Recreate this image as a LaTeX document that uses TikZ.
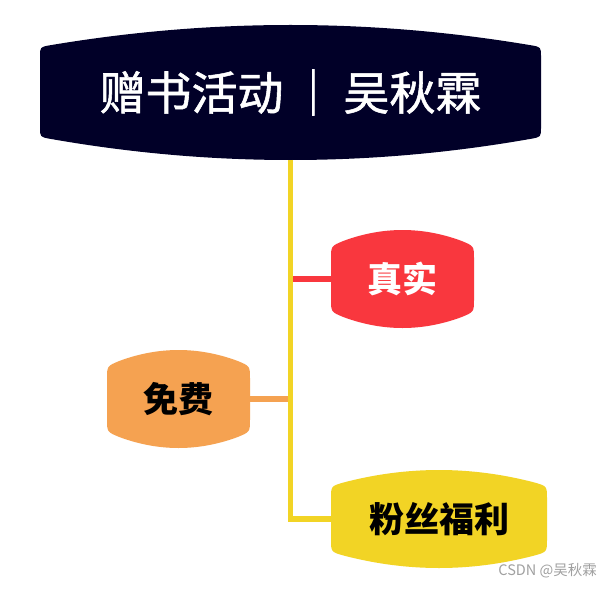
\documentclass[tikz,border=0pt]{standalone}
\usepackage{fontspec}
\newfontfamily\cjk{Noto Sans CJK SC}
\newfontfamily\cjkt[FakeBold=1.2]{Noto Sans CJK SC}
\usetikzlibrary{calc}
\definecolor{navy}{RGB}{1,0,40}
\definecolor{tred}{RGB}{249,55,62}
\definecolor{torange}{RGB}{245,162,81}
\definecolor{tyellow}{RGB}{242,212,37}
\definecolor{wmgray}{RGB}{160,160,160}
% #1 x0, #2 x1, #3 y apex top, #4 y side top, #5 y side bottom, #6 y apex bottom, #7 corner r, #8 colour
\newcommand\blobshape[8]{%
  \pgfmathsetmacro\bcx{(#1+#2)/2}%
  \pgfmathsetmacro\bhw{(#2-#1)/2}%
  \pgfmathsetmacro\bxa{#1+#7}%
  \pgfmathsetmacro\bxb{#2-#7}%
  \pgfmathsetmacro\bda{(\bhw-#7)/\bhw}%
  \pgfmathsetmacro\bya{#3+(#4-#3)*\bda*\bda}%
  \pgfmathsetmacro\byq{2*#3-\bya}%
  \pgfmathsetmacro\byc{\bya+2/3*(\byq-\bya)}%
  \pgfmathsetmacro\bybA{#6+(#5-#6)*\bda*\bda}%
  \pgfmathsetmacro\bybq{2*#6-\bybA}%
  \pgfmathsetmacro\bybc{\bybA+2/3*(\bybq-\bybA)}%
  \pgfmathsetmacro\bxc{\bxa+2/3*(\bcx-\bxa)}%
  \pgfmathsetmacro\bxd{\bxb-2/3*(\bxb-\bcx)}%
  \fill[#8] (#1,#4+#7) .. controls (#1,#4) .. (\bxa,\bya)
    .. controls (\bxc,\byc) and (\bxd,\byc) .. (\bxb,\bya)
    .. controls (#2,#4) .. (#2,#4+#7) -- (#2,#5-#7)
    .. controls (#2,#5) .. (\bxb,\bybA)
    .. controls (\bxd,\bybc) and (\bxc,\bybc) .. (\bxa,\bybA)
    .. controls (#1,#5) .. (#1,#5-#7) -- cycle;}
\begin{document}
\begin{tikzpicture}[x=1pt,y=-1pt,
  box/.style={rectangle, inner sep=0pt, outer sep=0pt},
  sub/.style={box, minimum height=98pt, font=\cjk\bfseries\fontsize{35}{40}\selectfont},
  link/.style={line width=5.5pt}]
\useasboundingbox (0,0) rectangle (612,588);
\fill[white] (0,0) rectangle (612,588);
% shapes
\blobshape{40}{541}{25}{47}{137}{160}{10}{navy}
\blobshape{331}{474}{230}{246}{312}{328}{13}{tred}
\blobshape{107}{250}{350}{366}{432}{448}{13}{torange}
\blobshape{331}{547}{470}{486}{552}{568}{13}{tyellow}
% nodes
\node[box, minimum width=501pt, minimum height=135pt, text=white,
  font=\cjkt\fontsize{46}{50}\selectfont] (title) at (290.5,92.5) {赠书活动\hspace{7pt}｜\hspace{7pt}吴秋霖};
\node[sub, minimum width=143pt, text=white] (zs) at (402.5,279) {真实};
\node[sub, minimum width=143pt, text=black] (mf) at (178.5,399) {免费};
\node[sub, minimum width=216pt, text=black] (fs) at (439,519) {粉丝福利};
\node[anchor=east, text=wmgray, inner sep=0pt, font=\cjk\fontsize{14.5}{16}\selectfont] (wm) at (597,571) {CSDN @吴秋霖};
% connectors
\draw[link, tred] (title.south |- zs.west) -- (zs.west);
\draw[link, torange] (mf.east) -- (title.south |- mf.east);
\draw[link, tyellow] (title.south) -- (title.south |- fs.west) -- (fs.west);
\end{tikzpicture}
\end{document}
